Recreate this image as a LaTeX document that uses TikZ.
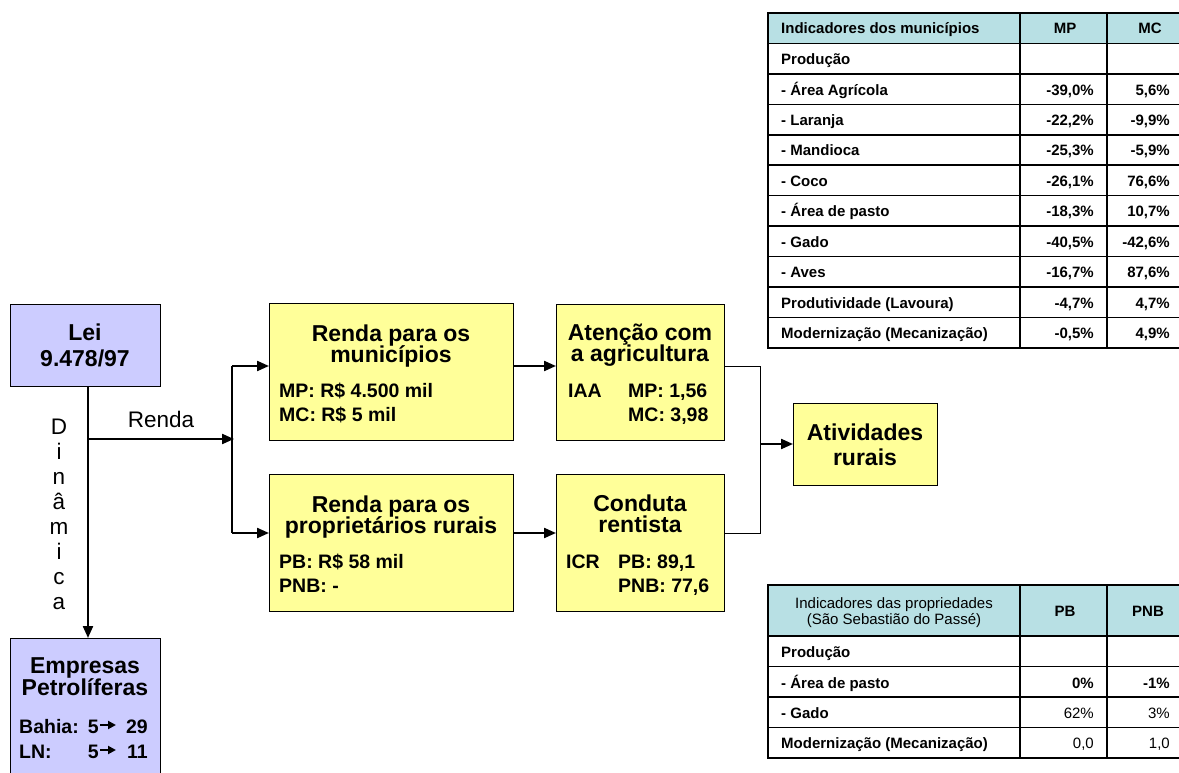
\documentclass[tikz,border=0pt]{standalone}
\usepackage{fontspec}
\setmainfont{Liberation Sans}
\usetikzlibrary{arrows.meta}
\definecolor{boxyellow}{RGB}{255,255,153}
\definecolor{boxlav}{RGB}{204,204,255}
\definecolor{thead}{RGB}{184,224,228}
\begin{document}
\begin{tikzpicture}[x=1pt,y=-1pt,
  box/.style={draw=black,line width=1pt,inner sep=0pt,outer sep=0pt,anchor=north west},
  ybox/.style={box,fill=boxyellow},
  lbox/.style={box,fill=boxlav},
  ttl/.style={font=\fontsize{23}{24}\selectfont\bfseries,inner sep=0pt,anchor=base},
  bdy/.style={font=\fontsize{19.5}{22}\selectfont\bfseries,inner sep=0pt,anchor=base west},
  bdyr/.style={font=\fontsize{19.5}{22}\selectfont\bfseries,inner sep=0pt,anchor=base east},
  reg/.style={font=\fontsize{22.5}{24}\selectfont,inner sep=0pt,anchor=base},
  arr/.style={line width=2.2pt,-{Triangle[length=12pt,width=10pt]}},
  sarr/.style={line width=2pt,-{Triangle[length=8pt,width=8pt]}},
  thn/.style={line width=1pt},
  tl/.style={line width=1.5pt},
  tx/.style={font=\fontsize{15}{17}\selectfont\bfseries,inner sep=0pt,anchor=base west},
  txr/.style={font=\fontsize{15}{17}\selectfont\bfseries,inner sep=0pt,anchor=base east},
  txc/.style={font=\fontsize{15}{17}\selectfont\bfseries,inner sep=0pt,anchor=base},
]
\useasboundingbox (0,0) rectangle (1179,773);

% ---- boxes ----
\node[lbox,minimum width=150pt,minimum height=82pt] (lei) at (10,304) {};
\node[lbox,minimum width=150pt,minimum height=150pt] (emp) at (10,638) {};
\node[ybox,minimum width=244pt,minimum height=137pt] (r1) at (269,303) {};
\node[ybox,minimum width=244pt,minimum height=137pt] (r2) at (269,474) {};
\node[ybox,minimum width=168pt,minimum height=136pt] (at) at (556,304) {};
\node[ybox,minimum width=168pt,minimum height=137pt] (cd) at (556,474) {};
\node[ybox,minimum width=144pt,minimum height=82pt] (av) at (793,403) {};

% ---- box texts ----
\node[ttl] (leit1) at (85,340) {Lei};
\node[ttl] (leit2) at (85,366) {9.478/97};
\node[ttl] (empt1) at (85,673) {Empresas};
\node[ttl] (empt2) at (85,695) {Petrolíferas};
\node[bdy] (empb1) at (19,733) {Bahia:};
\node[bdyr] (empb5) at (99,733) {5};
\node[bdyr] (empb2) at (148,733) {29};
\node[bdy] (empl1) at (19,758) {LN:};
\node[bdyr] (empl5) at (99,758) {5};
\node[bdyr] (empl2) at (148,758) {11};
\coordinate (ba) at (100,725);
\coordinate (la) at (100,750);
\draw[sarr] (ba) -- ++(16,0);
\draw[sarr] (la) -- ++(16,0);

\node[ttl] (r1t1) at (391,341) {Renda para os};
\node[ttl] (r1t2) at (391,362) {municípios};
\node[bdy] (r1b1) at (279,397) {MP: R\$ 4.500 mil};
\node[bdy] (r1b2) at (279,421) {MC: R\$ 5 mil};

\node[ttl] (r2t1) at (391,512) {Renda para os};
\node[ttl] (r2t2) at (391,533) {proprietários rurais};
\node[bdy] (r2b1) at (279,568) {PB: R\$ 58 mil};
\node[bdy] (r2b2) at (279,592) {PNB: -};

\node[ttl] (att1) at (640,340) {Atenção com};
\node[ttl] (att2) at (640,361) {a agricultura};
\node[bdy] (atb0) at (568,397) {IAA};
\node[bdy] (atb1) at (628,397) {MP: 1,56};
\node[bdy] (atb2) at (628,421) {MC: 3,98};

\node[ttl] (cdt1) at (640,511) {Conduta};
\node[ttl] (cdt2) at (640,532) {rentista};
\node[bdy] (cdb0) at (566,568) {ICR};
\node[bdy] (cdb1) at (618,568) {PB: 89,1};
\node[bdy] (cdb2) at (618,592) {PNB: 77,6};

\node[ttl] (avt1) at (865,440) {Atividades};
\node[ttl] (avt2) at (865,465) {rurais};

% ---- Dinamica / Renda labels ----
\foreach \c/\yy [count=\i] in {D/434,i/459,n/484,â/509,m/534,i/559,c/584,a/609}
  \node[reg] (dyn\i) at (59,\yy) {\c};
\node[reg] (rendalbl) at (161,427) {Renda};

% ---- connectors ----
\coordinate (lj) at (88,439);
\coordinate (split) at (234,439);
\coordinate (b1) at (232,366);
\coordinate (b2) at (232,533);
\draw[arr] (lei.south -| lj) -- (emp.north -| lj);
\draw[arr] (lj) -- (split);
\draw[line width=1.5pt] (b1) -- (b2);
\draw[arr] (b1) -- (b1 -| r1.west);
\draw[arr] (b2) -- (b2 -| r2.west);
\draw[arr] (r1.east |- b1) -- (at.west |- b1);
\draw[arr] (r2.east |- b2) -- (cd.west |- b2);
\coordinate (m1) at (760,366);
\coordinate (m2) at (760,533);
\draw[thn] (at.east |- m1) -- (m1) -- (m2) -- (cd.east |- m2);
\draw[arr] (m1 |- av.west) -- (av.west);

% ---- table 1 ----
\fill[thead] (768,13) rectangle (1186,43.45);
\foreach \i in {1,...,10} \draw[tl] (768,13+\i*30.45) -- (1186,13+\i*30.45);
\draw[tl] (1020,13) -- (1020,348);
\draw[tl] (1107,13) -- (1107,348);
\draw[line width=2pt] (768,13) rectangle (1186,348);
\node[tx] (t1h) at (781,34) {Indicadores dos municípios};
\node[txc] (t1hmp) at (1065,34) {MP};
\node[txc] (t1hmc) at (1150,34) {MC};
\foreach \lab/\va/\vb [count=\i] in {{Produção}/{}/{},
  {- Área Agrícola}/{-39,0\%}/{5,6\%},
  {- Laranja}/{-22,2\%}/{-9,9\%},
  {- Mandioca}/{-25,3\%}/{-5,9\%},
  {- Coco}/{-26,1\%}/{76,6\%},
  {- Área de pasto}/{-18,3\%}/{10,7\%},
  {- Gado}/{-40,5\%}/{-42,6\%},
  {- Aves}/{-16,7\%}/{87,6\%},
  {Produtividade (Lavoura)}/{-4,7\%}/{4,7\%},
  {Modernização (Mecanização)}/{-0,5\%}/{4,9\%}}{
  \node[tx] (t1l\i) at (781,13+\i*30.45+21.2) {\lab};
  \node[txr] (t1a\i) at (1094,13+\i*30.45+21.2) {\va};
  \node[txr] (t1b\i) at (1170,13+\i*30.45+21.2) {\vb};
}

% ---- table 2 ----
\fill[thead] (768,585) rectangle (1186,636);
\foreach \yy in {636,666.5,697,727.5} \draw[tl] (768,\yy) -- (1186,\yy);
\draw[tl] (1020,585) -- (1020,758);
\draw[tl] (1107,585) -- (1107,758);
\draw[line width=2pt] (768,585) rectangle (1186,758);
\node[font=\fontsize{15}{16}\selectfont,inner sep=0pt,anchor=base] (t2h1) at (894,608) {Indicadores das propriedades};
\node[font=\fontsize{15}{16}\selectfont,inner sep=0pt,anchor=base] (t2h2) at (894,624) {(São Sebastião do Passé)};
\node[txc] (t2hpb) at (1065,616) {PB};
\node[txc] (t2hpnb) at (1148,616) {PNB};
\foreach \lab/\va/\vb/\yy [count=\i] in {{Produção}/{}/{}/657,
  {- Área de pasto}/{\bfseries 0\%}/{\bfseries -1\%}/688,
  {- Gado}/{\mdseries 62\%}/{\mdseries 3\%}/718,
  {Modernização (Mecanização)}/{\mdseries 0,0}/{\mdseries 1,0}/748}{
  \node[tx] (t2l\i) at (781,\yy) {\lab};
  \node[txr] (t2a\i) at (1094,\yy) {\va};
  \node[txr] (t2b\i) at (1170,\yy) {\vb};
}
\end{tikzpicture}
\end{document}
